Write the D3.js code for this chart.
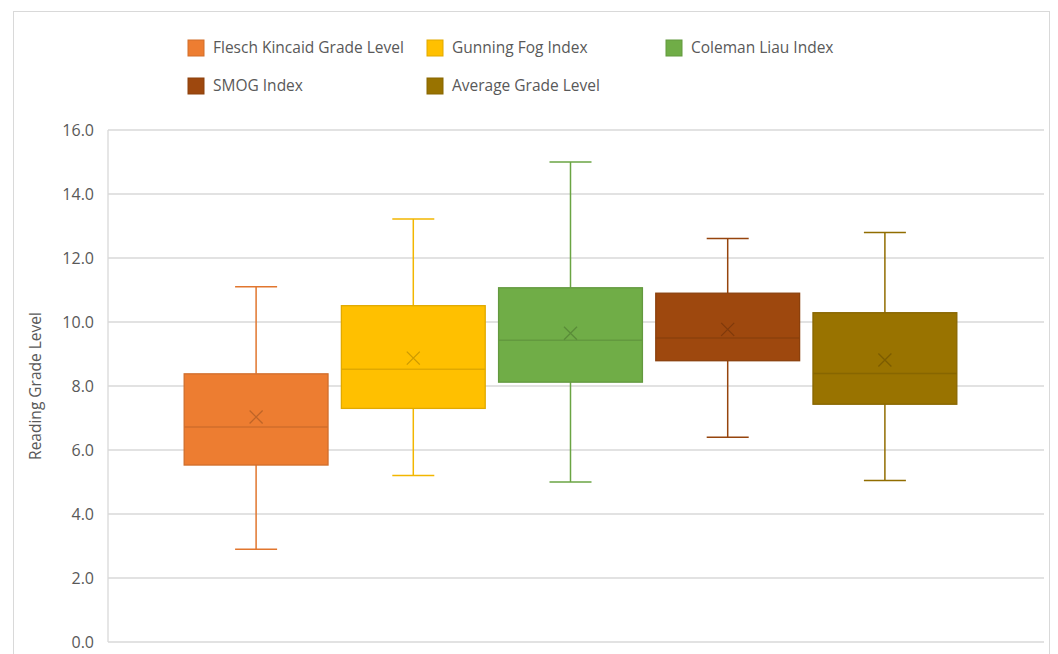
<!DOCTYPE html>
<html>
<head>
<meta charset="utf-8">
<script src="https://cdn.jsdelivr.net/npm/d3@7"></script>
<style>
  body { margin: 0; background: #fff; }
  svg { display: block; font-family: "Open Sans", Lato, sans-serif; }
</style>
</head>
<body>
<svg id="canvas" width="1058" height="654"></svg>
<script>
let seriesNames = ["Flesch Kincaid Grade Level", "Gunning Fog Index", "Coleman Liau Index", "SMOG Index", "Average Grade Level"];
let minValues = [2.9, 5.2, 5.0, 6.4, 5.05];
let q1Values = [5.53, 7.3, 8.12, 8.79, 7.43];
let medianValues = [6.72, 8.52, 9.43, 9.5, 8.39];
let q3Values = [8.38, 10.51, 11.07, 10.9, 10.29];
let maxValues = [11.1, 13.22, 15.0, 12.61, 12.8];
let meanValues = [7.03, 8.87, 9.65, 9.77, 8.81];
let yTicks = [0, 2, 4, 6, 8, 10, 12, 14, 16];

let colors = ["#ED7D31", "#FFC000", "#70AD47", "#9E480E", "#997300"];

let canvas = d3.select("#canvas");

// outer chart frame
canvas.append("rect")
    .attr("x", 13.5).attr("y", 11.5)
    .attr("width", 1036).attr("height", 660)
    .attr("fill", "none")
    .attr("stroke", "#d9d9d9");

let yScale = d3.scaleLinear().domain([0, 16]).range([642, 130]);
let xScale = d3.scaleBand()
    .domain(seriesNames)
    .range([177.5, 963.5])
    .paddingInner(0.085)
    .paddingOuter(0.0425);

// gridlines
canvas.append("g")
    .selectAll("line")
    .data(yTicks)
    .enter()
    .append("line")
    .attr("x1", 108).attr("x2", 1044)
    .attr("y1", (d) => yScale(d)).attr("y2", (d) => yScale(d))
    .attr("stroke", "#d9d9d9")
    .attr("stroke-width", 1.3);

// axis line
canvas.append("line")
    .attr("x1", 108).attr("x2", 108)
    .attr("y1", yScale(16)).attr("y2", yScale(0))
    .attr("stroke", "#d9d9d9")
    .attr("stroke-width", 1.3);

// y axis labels
let yAxis = d3.axisLeft(yScale)
    .tickValues(yTicks)
    .tickFormat(d3.format(".1f"))
    .tickSize(0)
    .tickPadding(14);

let yAxisG = canvas.append("g")
    .attr("transform", "translate(108,0)")
    .call(yAxis);
yAxisG.select(".domain").remove();
yAxisG.selectAll("text")
    .attr("font-family", "'Open Sans', Lato, sans-serif")
    .attr("font-size", 16)
    .attr("fill", "#595959");

canvas.append("text")
    .attr("transform", "translate(41," + yScale(8) + ") rotate(-90)")
    .attr("text-anchor", "middle")
    .attr("font-size", 15.5)
    .attr("fill", "#595959")
    .text("Reading Grade Level");

// boxes
let boxes = canvas.append("g")
    .selectAll("g")
    .data(seriesNames)
    .enter()
    .append("g");

let cx = (name) => xScale(name) + xScale.bandwidth() / 2;
let capHalf = 21;

boxes.each(function (name, i) {
    let g = d3.select(this);
    let c = colors[i];
    let edge = d3.color(c).darker(0.35).formatHex();
    let whisker = d3.color(c).darker(0.15).formatHex();
    let x = cx(name);

    // whiskers
    g.append("line")
        .attr("x1", x).attr("x2", x)
        .attr("y1", yScale(maxValues[i])).attr("y2", yScale(q3Values[i]))
        .attr("stroke", whisker).attr("stroke-width", 1.5);
    g.append("line")
        .attr("x1", x).attr("x2", x)
        .attr("y1", yScale(q1Values[i])).attr("y2", yScale(minValues[i]))
        .attr("stroke", whisker).attr("stroke-width", 1.5);
    [maxValues[i], minValues[i]].forEach((v) => {
        g.append("line")
            .attr("x1", x - capHalf).attr("x2", x + capHalf)
            .attr("y1", yScale(v)).attr("y2", yScale(v))
            .attr("stroke", whisker).attr("stroke-width", 1.5);
    });

    // box
    g.append("rect")
        .attr("x", xScale(name))
        .attr("y", yScale(q3Values[i]))
        .attr("width", xScale.bandwidth())
        .attr("height", yScale(q1Values[i]) - yScale(q3Values[i]))
        .attr("fill", c)
        .attr("stroke", edge)
        .attr("stroke-width", 1.3);

    // median
    g.append("line")
        .attr("x1", xScale(name)).attr("x2", xScale(name) + xScale.bandwidth())
        .attr("y1", yScale(medianValues[i])).attr("y2", yScale(medianValues[i]))
        .attr("stroke", edge).attr("stroke-width", 1.5);

    // mean marker
    let my = yScale(meanValues[i]);
    let s = 6.5;
    g.append("path")
        .attr("d", `M${x - s},${my - s}L${x + s},${my + s}M${x - s},${my + s}L${x + s},${my - s}`)
        .attr("stroke", d3.color(c).darker(0.6).formatHex())
        .attr("stroke-width", 1.3)
        .attr("fill", "none");
});

// legend
let legendPos = [[188, 48], [427, 48], [666, 48], [188, 86], [427, 86]];
let legend = canvas.append("g")
    .selectAll("g")
    .data(seriesNames)
    .enter()
    .append("g")
    .attr("transform", (d, i) => "translate(" + legendPos[i][0] + "," + legendPos[i][1] + ")");

legend.append("rect")
    .attr("x", 0).attr("y", -8)
    .attr("width", 16).attr("height", 16)
    .attr("fill", (d, i) => colors[i])
    .attr("stroke", (d, i) => d3.color(colors[i]).darker(0.35).formatHex());

legend.append("text")
    .attr("x", 25).attr("y", 0)
    .attr("dy", "0.35em")
    .attr("font-size", 15.5)
    .attr("fill", "#595959")
    .text((d) => d);
</script>
</body>
</html>
